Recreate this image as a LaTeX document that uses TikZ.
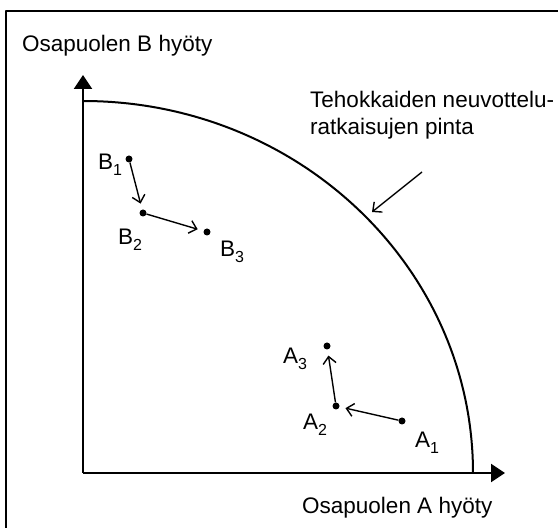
\documentclass[tikz,border=0pt]{standalone}
\usepackage{fontspec}
\setmainfont{Liberation Sans}
\usetikzlibrary{arrows.meta}
\newcommand{\idx}[1]{\raisebox{-0.45ex}{\fontsize{16}{16}\selectfont #1}}
\tikzset{
    lab/.style={
        font=\fontsize{22.5}{27}\selectfont, inner sep=0pt
    },
    dot/.style={circle, fill=black, inner sep=0pt, minimum size=7pt},
    move/.style={line width=1.4pt, -{Straight Barb[length=7pt,width=13pt]}, shorten >=6pt},
    axis/.style={line width=2pt, -{Triangle[length=14pt,width=18pt]}}
}

\begin{document}
\begin{tikzpicture}[x=1pt,y=1pt,line join=round]
    \useasboundingbox (0,0) rectangle (558,528);
    \clip (0,0) rectangle (558,528);

% --- geometry ---
    \def\rx{390}                   % curve radius along A
    \def\ry{372}                   % curve radius along B
    \coordinate (O)    at (83,55);  % origin
    \coordinate (Btop) at (83,453); % tip of B axis
    \coordinate (Aend) at (505,55); % tip of A axis

% frame (cut by the page)
    \draw[line width=2pt] (6,-20) rectangle (590,517);

% axes
    \draw[axis] (O) -- (Btop);
    \draw[axis] (O) -- (Aend);

% surface of efficient outcomes
    \draw[line width=2pt] (83,427) arc[start angle=90, end angle=0, x radius=\rx, y radius=\ry];

% positions of party B
    \node[dot] (B1) at (129,369) {};
    \node[dot] (B2) at (143,315) {};
    \node[dot] (B3) at (207,296) {};
    \draw[move] (B1) -- (B2);
    \draw[move] (B2) -- (B3);

% positions of party A
    \node[dot] (A1) at (402,107) {};
    \node[dot] (A2) at (336,122) {};
    \node[dot] (A3) at (327,182) {};
    \draw[move] (A1) -- (A2);
    \draw[move] (A2) -- (A3);

% point labels
    \node[lab, anchor=base west] (lB1) at (98,358)  {B\idx{1}};
    \node[lab, anchor=base west] (lB2) at (118,283) {B\idx{2}};
    \node[lab, anchor=base west] (lB3) at (220,271) {B\idx{3}};
    \node[lab, anchor=base west] (lA3) at (283,164) {A\idx{3}};
    \node[lab, anchor=base west] (lA2) at (303,98)  {A\idx{2}};
    \node[lab, anchor=base west] (lA1) at (415,80)  {A\idx{1}};

% axis labels
    \node[lab, anchor=base west] (yLab) at (22,476) {Osapuolen B hyöty};
    \node[lab, anchor=base west] (xLab) at (302,14) {Osapuolen A hyöty};

% curve label
    \node[lab, anchor=base west, align=left] (pinta) at (310,393)
        {Tehokkaiden neuvottelu-\\ratkaisujen pinta};
    \coordinate (pintaFrom) at (422,356);
    \coordinate (pintaTo)   at (372,316);
    \draw[move, shorten >=0pt] (pintaFrom) -- (pintaTo);

\end{tikzpicture}
\end{document}
